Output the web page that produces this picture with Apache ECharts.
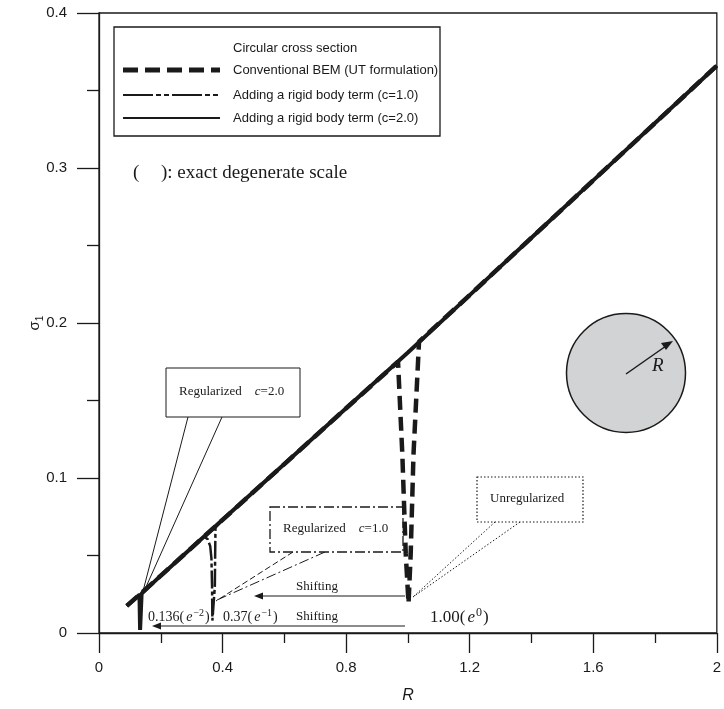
<!DOCTYPE html>
<html>
<head>
<meta charset="utf-8">
<script src="https://cdn.jsdelivr.net/npm/echarts@6/dist/echarts.min.js"></script>
<style>
  html, body { margin: 0; padding: 0; background: #fff; }
  #chart { width: 724px; height: 709px; }
</style>
</head>
<body>
<div id="chart"></div>
<script>
// values
var xTicks = [0, 0.4, 0.8, 1.2, 1.6, 2]
var yTicks = [0, 0.1, 0.2, 0.3, 0.4]

// Conventional BEM (UT formulation), dip at R = 1.00
var convR = [0.09, 0.2, 0.4, 0.6, 0.8, 0.968, 0.982, 0.993, 1.002, 1.009, 1.018, 1.036, 1.2, 1.4, 1.6, 1.8, 2.0]
var convS = [0.0175, 0.037, 0.073, 0.109, 0.145, 0.175, 0.115, 0.051, 0.019, 0.051, 0.115, 0.188, 0.218, 0.255, 0.292, 0.329, 0.366]

// rigid body term c=1.0, dip at R = 0.37
var c1R = [0.09, 0.2, 0.34, 0.352, 0.36, 0.364, 0.366, 0.367, 0.373, 0.375, 0.376, 0.377, 0.4, 0.6, 0.8, 1.0, 1.2, 1.4, 1.6, 1.8, 2.0]
var c1S = [0.0175, 0.037, 0.0622, 0.0605, 0.056, 0.048, 0.03, 0.008, 0.008, 0.03, 0.05, 0.068, 0.073, 0.109, 0.145, 0.181, 0.218, 0.255, 0.292, 0.329, 0.366]

// rigid body term c=2.0, dip at R = 0.136
var c2R = [0.09, 0.131, 0.133, 0.136, 0.138, 0.2, 0.4, 0.6, 0.8, 1.0, 1.2, 1.4, 1.6, 1.8, 2.0]
var c2S = [0.0175, 0.0247, 0.002, 0.002, 0.0255, 0.037, 0.073, 0.109, 0.145, 0.181, 0.218, 0.255, 0.292, 0.329, 0.366]

function pairs(xs, ys) {
  var out = []
  for (var i = 0; i < xs.length; i++) {
    out.push([xs[i], ys[i]])
  }
  return out
}

var ink = '#1a1a1a'
var serif = '"Liberation Serif", "Times New Roman", serif'
var sans = '"Liberation Sans", Arial, sans-serif'

function arrowHead(x, y) { // points left
  return {
    type: 'polygon',
    shape: { points: [[x, y], [x + 9, y - 3.5], [x + 9, y + 3.5]] },
    style: { fill: ink }
  }
}

function seg(x1, y1, x2, y2, w, dash) {
  return {
    type: 'line',
    shape: { x1: x1, y1: y1, x2: x2, y2: y2 },
    style: { stroke: ink, lineWidth: w || 1, lineDash: dash || null }
  }
}

function txt(x, y, text, font, rich, align) {
  var o = {
    type: 'text',
    x: x,
    y: y,
    style: {
      text: text,
      font: font,
      fill: ink,
      align: align || 'left',
      verticalAlign: 'middle'
    }
  }
  if (rich) o.style.rich = rich
  return o
}

function supRich(size) {
  return {
    n: { fontFamily: serif, fontSize: size, color: ink },
    i: { fontFamily: serif, fontSize: size, fontStyle: 'italic', color: ink, padding: [0, 0, 0, 2] },
    sup: { fontFamily: serif, fontSize: Math.round(size * 0.68), color: ink, verticalAlign: 'top', padding: [0, 1, Math.round(size * 0.6), 1] }
  }
}
var richBox = {
  n: { fontFamily: serif, fontSize: 13, color: ink },
  i: { fontFamily: serif, fontSize: 13, fontStyle: 'italic', color: ink }
}

var graphic = [
  // legend box
  { type: 'rect', shape: { x: 114, y: 27, width: 326, height: 109 }, style: { fill: '#fff', stroke: ink, lineWidth: 1.3 } },
  txt(233, 48, 'Circular cross section', '13px ' + sans),
  seg(123, 70, 220, 70, 5, [15, 7]),
  txt(233, 70, 'Conventional BEM (UT formulation)', '13px ' + sans),
  seg(123, 95, 220, 95, 2, [30, 3, 5, 3, 5, 3]),
  txt(233, 95, 'Adding a rigid body term (c=1.0)', '13px ' + sans),
  seg(123, 118, 220, 118, 2),
  txt(233, 118, 'Adding a rigid body term (c=2.0)', '13px ' + sans),

  txt(133, 173, '(', '19px ' + serif),
  txt(161, 173, '): exact degenerate scale', '19px ' + serif),

  // Regularized c=2.0
  seg(188, 417, 141.5, 597, 1),
  seg(222, 417, 141.5, 597, 1),
  { type: 'rect', shape: { x: 166, y: 368, width: 134, height: 49 }, style: { fill: '#fff', stroke: ink, lineWidth: 1 } },
  txt(179, 392, '{n|Regularized}    {i|c}{n|=2.0}', '13px ' + serif, richBox),

  // Regularized c=1.0
  seg(293, 552, 216, 601, 1, [6, 3]),
  seg(325, 552, 217, 600, 1, [10, 3, 2, 3]),
  { type: 'rect', shape: { x: 270, y: 507, width: 133, height: 45 }, style: { fill: '#fff', stroke: ink, lineWidth: 1.3, lineDash: [10, 3, 2, 3] } },
  txt(283, 529, '{n|Regularized}    {i|c}{n|=1.0}', '13px ' + serif, richBox),

  // Unregularized
  seg(495, 522, 413, 597, 1, [1.5, 2]),
  seg(520, 522, 413, 597, 1, [1.5, 2]),
  { type: 'rect', shape: { x: 477, y: 477, width: 106, height: 45 }, style: { fill: '#fff', stroke: ink, lineWidth: 1.2, lineDash: [1.5, 2] } },
  txt(490, 499, 'Unregularized', '13px ' + serif),

  // shifting arrows
  seg(405, 596, 262, 596, 1.2),
  arrowHead(254, 596),
  txt(317, 587, 'Shifting', '13px ' + serif, null, 'center'),
  seg(405, 626, 160, 626, 1.2),
  arrowHead(152, 626),
  txt(317, 617, 'Shifting', '13px ' + serif, null, 'center'),

  txt(148, 617, '{n|0.136(}{i|e}{sup|−2}{n|)}', '14px ' + serif, supRich(14)),
  txt(223, 617, '{n|0.37(}{i|e}{sup|−1}{n|)}', '14px ' + serif, supRich(14)),
  txt(430, 618, '{n|1.00(}{i|e}{sup|0}{n|)}', '17px ' + serif, supRich(17)),

  // circular cross section sketch
  { type: 'circle', shape: { cx: 626, cy: 373, r: 59.5 }, style: { fill: '#d2d3d5', stroke: ink, lineWidth: 1.5 } },
  seg(626, 374, 666, 346, 1.5),
  { type: 'polygon', shape: { points: [[673, 341], [661, 343], [666, 350]] }, style: { fill: ink } },
  { type: 'text', x: 652, y: 366, style: { text: 'R', font: 'italic 19px ' + serif, fill: ink, verticalAlign: 'middle' } }
]

var chart = echarts.init(document.getElementById('chart'))
var option = {
  animation: false,
  grid: {
    left: 99,
    right: 2,
    top: 13,
    bottom: 72,
    show: true,
    borderColor: ink,
    borderWidth: 1.3
  },
  xAxis: {
    type: 'value',
    min: xTicks[0],
    max: xTicks[xTicks.length - 1],
    interval: 0.4,
    name: 'R',
    nameLocation: 'middle',
    nameGap: 55,
    nameMoveOverlap: false,
    nameTextStyle: { fontFamily: sans, fontSize: 16, fontStyle: 'italic', color: ink },
    axisLine: { lineStyle: { color: ink, width: 1.3 } },
    axisTick: { inside: false, length: 20, lineStyle: { color: ink, width: 1.3 } },
    minorTick: { show: true, splitNumber: 2, length: 10, lineStyle: { color: ink, width: 1.3 } },
    splitLine: { show: false },
    axisLabel: {
      margin: 27,
      fontFamily: sans,
      fontSize: 15,
      color: ink,
      formatter: function(v) { return String(v) }
    }
  },
  yAxis: {
    type: 'value',
    min: yTicks[0],
    max: yTicks[yTicks.length - 1],
    interval: 0.1,
    name: '{s|σ}{sub|1}',
    nameLocation: 'middle',
    nameGap: 54,
    nameMoveOverlap: false,
    nameTextStyle: {
      rich: {
        s: { fontFamily: sans, fontSize: 15, color: ink, lineHeight: 20 },
        sub: { fontFamily: sans, fontSize: 10, color: ink, lineHeight: 20, verticalAlign: 'bottom' }
      }
    },
    axisLine: { lineStyle: { color: ink, width: 1.3 } },
    axisTick: { inside: false, length: 22, lineStyle: { color: ink, width: 1.3 } },
    minorTick: { show: true, splitNumber: 2, length: 12, lineStyle: { color: ink, width: 1.3 } },
    splitLine: { show: false },
    axisLabel: {
      margin: 32,
      fontFamily: sans,
      fontSize: 15,
      color: ink,
      formatter: function(v) { return String(v) }
    }
  },
  series: [
    {
      name: 'Adding a rigid body term (c=2.0)',
      type: 'line',
      data: pairs(c2R, c2S),
      showSymbol: false,
      lineStyle: { color: ink, width: 4 },
      z: 2
    },
    {
      name: 'Adding a rigid body term (c=1.0)',
      type: 'line',
      data: pairs(c1R, c1S),
      showSymbol: false,
      lineStyle: { color: ink, width: 2.5, type: [18, 3, 4, 3] },
      z: 3
    },
    {
      name: 'Conventional BEM (UT formulation)',
      type: 'line',
      data: pairs(convR, convS),
      showSymbol: false,
      lineStyle: { color: ink, width: 4.5, type: [14, 7] },
      z: 4
    }
  ],
  graphic: graphic
}
chart.setOption(option)
window.addEventListener('resize', function() {
  chart.resize()
})
</script>
</body>
</html>
